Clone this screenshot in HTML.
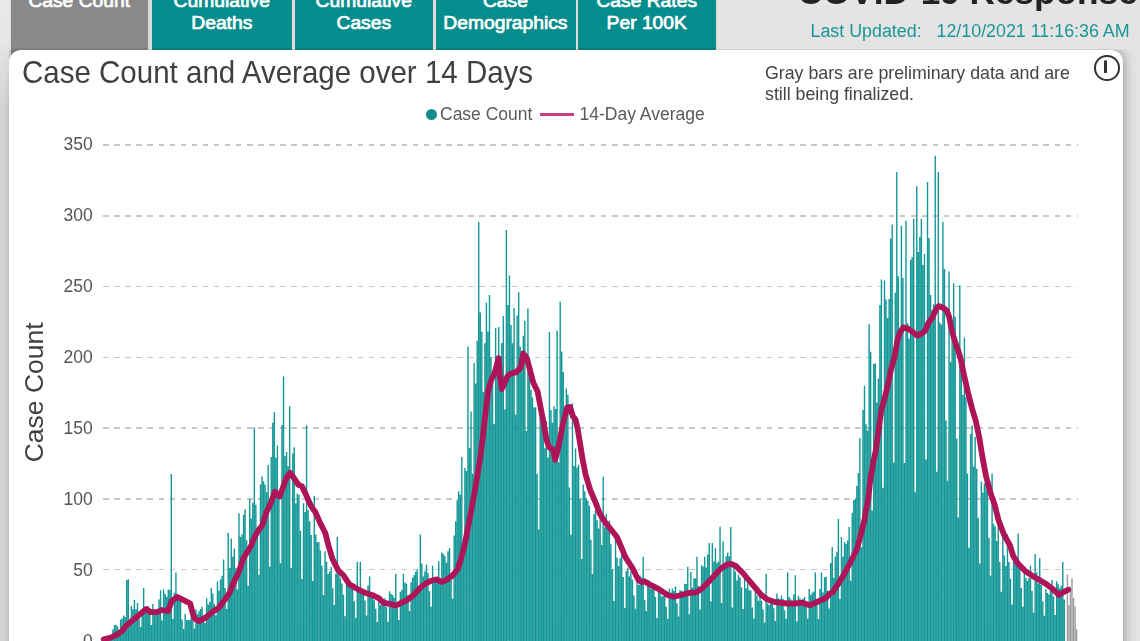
<!DOCTYPE html>
<html><head><meta charset="utf-8">
<style>
*{box-sizing:border-box;margin:0;padding:0}
html,body{width:1140px;height:641px;overflow:hidden;background:#e4e4e4;font-family:"Liberation Sans",sans-serif;position:relative}
.strip{position:absolute;left:0;top:0;width:9.2px;height:641px;z-index:2;background:linear-gradient(to bottom,#e8e8e8 0,#e7e7e7 40px,rgba(231,231,231,0.5) 70px,rgba(231,231,231,0) 110px),linear-gradient(to right,#d4d4d4 0,#d0d0d0 5px,#c6c6c6 7.5px,#bcbcbc 9.2px)}
.tabbg{position:absolute;left:10px;top:0;width:708px;height:49.3px;background:#dedada}
.tab{position:absolute;top:-20px;height:82px;background:#058c8c;color:#fff;font-weight:400;font-size:17.5px;-webkit-text-stroke:0.7px #fff;text-align:center;line-height:21.8px;padding-top:11.1px}
.tab span{display:inline-block;transform:scaleX(1.1)}
.tab.active{background:#898989}
.tab:after{content:"";position:absolute;left:0;right:0;top:68px;height:1.4px;background:#067b7b}
.tab.active:after{background:#7e7e7e}
.hdr{position:absolute;left:797.5px;top:-27.8px;font-size:35.2px;font-weight:700;color:#222;white-space:nowrap}
.upd{position:absolute;left:810.5px;top:20.6px;font-size:17.85px;color:#1a9696;white-space:nowrap}
.card{position:absolute;left:9.2px;top:49.5px;width:1113.9px;height:620px;background:#fff;border-radius:12px;box-shadow:0 0 13px rgba(0,0,0,.42);clip-path:inset(0 -30px -30px -30px)}
.title{position:absolute;left:22px;top:56px;font-size:29.5px;color:#404040;white-space:nowrap;transform:scaleY(1.085);transform-origin:0 26.7px}
.note{position:absolute;left:765px;top:63px;font-size:17.75px;line-height:21px;color:#444;white-space:nowrap}
.legend{position:absolute;top:104px;font-size:17.5px;color:#5a5a5a;white-space:nowrap}
.dot{position:absolute;left:426px;top:109px;width:11px;height:11px;border-radius:50%;background:#108e8e}
.lline{position:absolute;left:540px;top:113px;width:34px;height:3px;background:#c4407e}
.info{position:absolute;left:1094.3px;top:55.3px;width:25.5px;height:25.3px;border:2.8px solid #333;border-radius:50%}
.info:after{content:"";position:absolute;left:7.9px;top:3.2px;width:3.2px;height:12.3px;background:#333;border-radius:1.6px 1.6px 0.5px 0.5px}
.chart{position:absolute;left:0;top:0}
.wrap{position:absolute;left:0;top:0;width:1140px;height:641px;overflow:hidden;filter:blur(0.4px)}
</style></head><body><div class="wrap">
<div class="strip"></div>
<div class="tabbg"></div>
<div class="tab active" style="left:10.5px;width:137px"><span>Case Count</span></div>
<div class="tab" style="left:151.5px;width:140px"><span>Cumulative<br>Deaths</span></div>
<div class="tab" style="left:294.5px;width:138px"><span>Cumulative<br>Cases</span></div>
<div class="tab" style="left:435.5px;width:140px"><span>Case<br>Demographics</span></div>
<div class="tab" style="left:578px;width:138px"><span>Case Rates<br>Per 100K</span></div>
<div class="hdr">COVID-19 Response</div>
<div class="upd">Last Updated:&nbsp;&nbsp; 12/10/2021 11:16:36 AM</div>
<div class="card"></div>
<div class="title">Case Count and Average over 14 Days</div>
<div class="note">Gray bars are preliminary data and are<br>still being finalized.</div>
<div class="dot"></div>
<div class="legend" style="left:440px">Case Count</div>
<div class="lline"></div>
<div class="legend" style="left:579.5px">14-Day Average</div>
<div class="info"></div>
<svg class="chart" width="1140" height="641" viewBox="0 0 1140 641">
<g stroke="#c8c8c8" stroke-width="1.5" stroke-dasharray="5.5 5.562" shape-rendering="crispEdges"><line x1="103.2" x2="1077.7" y1="569.6" y2="569.6"/><line x1="103.2" x2="1077.7" y1="498.8" y2="498.8"/><line x1="103.2" x2="1077.7" y1="428.1" y2="428.1"/><line x1="103.2" x2="1077.7" y1="357.4" y2="357.4"/><line x1="103.2" x2="1077.7" y1="286.6" y2="286.6"/><line x1="103.2" x2="1077.7" y1="215.9" y2="215.9"/><line x1="103.2" x2="1077.7" y1="145.2" y2="145.2"/></g>
<path fill="#139797" d="M103.00 637.5h1.4V642h-1.4zM104.54 637.5h1.4V642h-1.4zM106.07 637.5h1.4V642h-1.4zM107.61 637.5h1.4V642h-1.4zM109.15 637.5h1.4V642h-1.4zM110.69 637.5h1.4V642h-1.4zM112.22 629.5h1.4V642h-1.4zM113.76 625.3h1.4V642h-1.4zM115.30 624.8h1.4V642h-1.4zM116.83 626.6h1.4V642h-1.4zM118.37 632.0h1.4V642h-1.4zM119.91 619.7h1.4V642h-1.4zM121.44 618.4h1.4V642h-1.4zM122.98 615.6h1.4V642h-1.4zM124.52 617.0h1.4V642h-1.4zM126.05 580.0h1.4V642h-1.4zM127.59 579.2h1.4V642h-1.4zM129.13 624.9h1.4V642h-1.4zM130.67 606.1h1.4V642h-1.4zM132.20 608.9h1.4V642h-1.4zM133.74 600.0h1.4V642h-1.4zM135.28 609.3h1.4V642h-1.4zM136.81 603.0h1.4V642h-1.4zM138.35 617.1h1.4V642h-1.4zM139.89 626.9h1.4V642h-1.4zM141.43 609.6h1.4V642h-1.4zM142.96 588.0h1.4V642h-1.4zM144.50 608.2h1.4V642h-1.4zM146.04 611.0h1.4V642h-1.4zM147.57 606.3h1.4V642h-1.4zM149.11 614.1h1.4V642h-1.4zM150.65 625.1h1.4V642h-1.4zM152.18 604.0h1.4V642h-1.4zM153.72 611.1h1.4V642h-1.4zM155.26 612.4h1.4V642h-1.4zM156.80 609.8h1.4V642h-1.4zM158.33 599.6h1.4V642h-1.4zM159.87 590.2h1.4V642h-1.4zM161.41 620.4h1.4V642h-1.4zM162.94 589.6h1.4V642h-1.4zM164.48 594.0h1.4V642h-1.4zM166.02 596.7h1.4V642h-1.4zM167.55 589.4h1.4V642h-1.4zM169.09 590.1h1.4V642h-1.4zM170.63 473.9h1.4V642h-1.4zM172.17 619.0h1.4V642h-1.4zM173.70 592.8h1.4V642h-1.4zM175.24 572.5h1.4V642h-1.4zM176.78 598.0h1.4V642h-1.4zM178.31 601.0h1.4V642h-1.4zM179.85 598.7h1.4V642h-1.4zM181.39 619.6h1.4V642h-1.4zM182.92 629.0h1.4V642h-1.4zM184.46 613.8h1.4V642h-1.4zM186.00 620.1h1.4V642h-1.4zM187.54 620.0h1.4V642h-1.4zM189.07 620.3h1.4V642h-1.4zM190.61 615.4h1.4V642h-1.4zM192.15 620.8h1.4V642h-1.4zM193.68 628.4h1.4V642h-1.4zM195.22 609.5h1.4V642h-1.4zM196.76 614.2h1.4V642h-1.4zM198.29 611.3h1.4V642h-1.4zM199.83 608.9h1.4V642h-1.4zM201.37 606.8h1.4V642h-1.4zM202.91 615.4h1.4V642h-1.4zM204.44 623.1h1.4V642h-1.4zM205.98 598.3h1.4V642h-1.4zM207.52 604.5h1.4V642h-1.4zM209.05 601.9h1.4V642h-1.4zM210.59 588.0h1.4V642h-1.4zM212.13 593.4h1.4V642h-1.4zM213.66 604.3h1.4V642h-1.4zM215.20 615.2h1.4V642h-1.4zM216.74 581.4h1.4V642h-1.4zM218.28 590.4h1.4V642h-1.4zM219.81 579.5h1.4V642h-1.4zM221.35 575.7h1.4V642h-1.4zM222.89 559.4h1.4V642h-1.4zM224.42 587.9h1.4V642h-1.4zM225.96 609.0h1.4V642h-1.4zM227.50 533.1h1.4V642h-1.4zM229.03 568.1h1.4V642h-1.4zM230.57 538.4h1.4V642h-1.4zM232.11 556.7h1.4V642h-1.4zM233.64 548.6h1.4V642h-1.4zM235.18 568.1h1.4V642h-1.4zM236.72 589.6h1.4V642h-1.4zM238.26 513.3h1.4V642h-1.4zM239.79 537.0h1.4V642h-1.4zM241.33 534.4h1.4V642h-1.4zM242.87 514.7h1.4V642h-1.4zM244.40 509.6h1.4V642h-1.4zM245.94 540.2h1.4V642h-1.4zM247.48 585.7h1.4V642h-1.4zM249.01 498.8h1.4V642h-1.4zM250.55 518.4h1.4V642h-1.4zM252.09 502.7h1.4V642h-1.4zM253.63 427.4h1.4V642h-1.4zM255.16 504.8h1.4V642h-1.4zM256.70 537.1h1.4V642h-1.4zM258.24 574.7h1.4V642h-1.4zM259.77 484.6h1.4V642h-1.4zM261.31 476.5h1.4V642h-1.4zM262.85 481.2h1.4V642h-1.4zM264.38 484.4h1.4V642h-1.4zM265.92 492.3h1.4V642h-1.4zM267.46 464.9h1.4V642h-1.4zM269.00 566.7h1.4V642h-1.4zM270.53 457.0h1.4V642h-1.4zM272.07 422.7h1.4V642h-1.4zM273.61 412.1h1.4V642h-1.4zM275.14 457.4h1.4V642h-1.4zM276.68 445.5h1.4V642h-1.4zM278.22 492.5h1.4V642h-1.4zM279.75 563.3h1.4V642h-1.4zM281.29 424.9h1.4V642h-1.4zM282.83 376.5h1.4V642h-1.4zM284.37 456.2h1.4V642h-1.4zM285.90 451.9h1.4V642h-1.4zM287.44 466.2h1.4V642h-1.4zM288.98 406.3h1.4V642h-1.4zM290.51 567.9h1.4V642h-1.4zM292.05 453.6h1.4V642h-1.4zM293.59 447.2h1.4V642h-1.4zM295.12 503.3h1.4V642h-1.4zM296.66 493.6h1.4V642h-1.4zM298.20 495.1h1.4V642h-1.4zM299.74 530.8h1.4V642h-1.4zM301.27 579.1h1.4V642h-1.4zM302.81 503.3h1.4V642h-1.4zM304.35 512.0h1.4V642h-1.4zM305.88 425.3h1.4V642h-1.4zM307.42 510.0h1.4V642h-1.4zM308.96 521.2h1.4V642h-1.4zM310.50 534.9h1.4V642h-1.4zM312.03 581.1h1.4V642h-1.4zM313.57 496.0h1.4V642h-1.4zM315.11 534.5h1.4V642h-1.4zM316.64 542.2h1.4V642h-1.4zM318.18 541.9h1.4V642h-1.4zM319.72 550.6h1.4V642h-1.4zM321.25 565.8h1.4V642h-1.4zM322.79 595.0h1.4V642h-1.4zM324.33 551.3h1.4V642h-1.4zM325.87 561.7h1.4V642h-1.4zM327.40 574.0h1.4V642h-1.4zM328.94 571.5h1.4V642h-1.4zM330.48 566.9h1.4V642h-1.4zM332.01 588.3h1.4V642h-1.4zM333.55 605.1h1.4V642h-1.4zM335.09 573.8h1.4V642h-1.4zM336.62 537.0h1.4V642h-1.4zM338.16 574.6h1.4V642h-1.4zM339.70 578.3h1.4V642h-1.4zM341.24 583.4h1.4V642h-1.4zM342.77 594.7h1.4V642h-1.4zM344.31 616.2h1.4V642h-1.4zM345.85 578.2h1.4V642h-1.4zM347.38 578.2h1.4V642h-1.4zM348.92 582.9h1.4V642h-1.4zM350.46 582.7h1.4V642h-1.4zM351.99 587.9h1.4V642h-1.4zM353.53 601.2h1.4V642h-1.4zM355.07 617.8h1.4V642h-1.4zM356.61 561.8h1.4V642h-1.4zM358.14 589.3h1.4V642h-1.4zM359.68 561.8h1.4V642h-1.4zM361.22 592.0h1.4V642h-1.4zM362.75 592.7h1.4V642h-1.4zM364.29 600.5h1.4V642h-1.4zM365.83 615.5h1.4V642h-1.4zM367.36 585.6h1.4V642h-1.4zM368.90 576.6h1.4V642h-1.4zM370.44 595.7h1.4V642h-1.4zM371.97 595.8h1.4V642h-1.4zM373.51 600.2h1.4V642h-1.4zM375.05 608.7h1.4V642h-1.4zM376.59 621.9h1.4V642h-1.4zM378.12 601.6h1.4V642h-1.4zM379.66 605.2h1.4V642h-1.4zM381.20 604.5h1.4V642h-1.4zM382.73 603.1h1.4V642h-1.4zM384.27 598.3h1.4V642h-1.4zM385.81 606.9h1.4V642h-1.4zM387.34 621.7h1.4V642h-1.4zM388.88 591.3h1.4V642h-1.4zM390.42 593.9h1.4V642h-1.4zM391.96 595.0h1.4V642h-1.4zM393.49 597.7h1.4V642h-1.4zM395.03 573.8h1.4V642h-1.4zM396.57 607.7h1.4V642h-1.4zM398.10 620.0h1.4V642h-1.4zM399.64 592.0h1.4V642h-1.4zM401.18 590.0h1.4V642h-1.4zM402.71 573.8h1.4V642h-1.4zM404.25 582.6h1.4V642h-1.4zM405.79 583.8h1.4V642h-1.4zM407.33 595.3h1.4V642h-1.4zM408.86 611.0h1.4V642h-1.4zM410.40 582.2h1.4V642h-1.4zM411.94 577.5h1.4V642h-1.4zM413.47 574.9h1.4V642h-1.4zM415.01 571.8h1.4V642h-1.4zM416.55 569.6h1.4V642h-1.4zM418.08 590.7h1.4V642h-1.4zM419.62 534.5h1.4V642h-1.4zM421.16 563.4h1.4V642h-1.4zM422.70 576.6h1.4V642h-1.4zM424.23 571.3h1.4V642h-1.4zM425.77 564.6h1.4V642h-1.4zM427.31 573.1h1.4V642h-1.4zM428.84 591.2h1.4V642h-1.4zM430.38 606.7h1.4V642h-1.4zM431.92 565.7h1.4V642h-1.4zM433.45 579.8h1.4V642h-1.4zM434.99 581.9h1.4V642h-1.4zM436.53 577.2h1.4V642h-1.4zM438.07 561.3h1.4V642h-1.4zM439.60 582.1h1.4V642h-1.4zM441.14 552.6h1.4V642h-1.4zM442.68 553.9h1.4V642h-1.4zM444.21 556.1h1.4V642h-1.4zM445.75 562.6h1.4V642h-1.4zM447.29 551.2h1.4V642h-1.4zM448.82 548.1h1.4V642h-1.4zM450.36 574.9h1.4V642h-1.4zM451.90 598.8h1.4V642h-1.4zM453.44 535.6h1.4V642h-1.4zM454.97 521.2h1.4V642h-1.4zM456.51 500.2h1.4V642h-1.4zM458.05 491.3h1.4V642h-1.4zM459.58 494.7h1.4V642h-1.4zM461.12 457.0h1.4V642h-1.4zM462.66 558.7h1.4V642h-1.4zM464.19 467.9h1.4V642h-1.4zM465.73 471.0h1.4V642h-1.4zM467.27 346.5h1.4V642h-1.4zM468.81 447.9h1.4V642h-1.4zM470.34 411.6h1.4V642h-1.4zM471.88 473.7h1.4V642h-1.4zM473.42 363.0h1.4V642h-1.4zM474.95 383.6h1.4V642h-1.4zM476.49 340.8h1.4V642h-1.4zM478.03 222.0h1.4V642h-1.4zM479.56 312.5h1.4V642h-1.4zM481.10 331.8h1.4V642h-1.4zM482.64 392.1h1.4V642h-1.4zM484.18 343.2h1.4V642h-1.4zM485.71 302.8h1.4V642h-1.4zM487.25 331.4h1.4V642h-1.4zM488.79 295.1h1.4V642h-1.4zM490.32 357.3h1.4V642h-1.4zM491.86 381.4h1.4V642h-1.4zM493.40 424.1h1.4V642h-1.4zM494.94 327.9h1.4V642h-1.4zM496.47 360.7h1.4V642h-1.4zM498.01 327.0h1.4V642h-1.4zM499.55 379.8h1.4V642h-1.4zM501.08 343.0h1.4V642h-1.4zM502.62 315.9h1.4V642h-1.4zM504.16 409.4h1.4V642h-1.4zM505.69 230.0h1.4V642h-1.4zM507.23 305.0h1.4V642h-1.4zM508.77 275.4h1.4V642h-1.4zM510.31 324.9h1.4V642h-1.4zM511.84 343.2h1.4V642h-1.4zM513.38 308.1h1.4V642h-1.4zM514.92 414.5h1.4V642h-1.4zM516.45 315.6h1.4V642h-1.4zM517.99 292.3h1.4V642h-1.4zM519.53 346.7h1.4V642h-1.4zM521.06 360.1h1.4V642h-1.4zM522.60 335.8h1.4V642h-1.4zM524.14 320.8h1.4V642h-1.4zM525.67 430.9h1.4V642h-1.4zM527.21 308.6h1.4V642h-1.4zM528.75 358.0h1.4V642h-1.4zM530.29 389.8h1.4V642h-1.4zM531.82 397.3h1.4V642h-1.4zM533.36 407.4h1.4V642h-1.4zM534.90 407.2h1.4V642h-1.4zM536.43 474.1h1.4V642h-1.4zM537.97 529.4h1.4V642h-1.4zM539.51 398.9h1.4V642h-1.4zM541.04 410.9h1.4V642h-1.4zM542.58 422.3h1.4V642h-1.4zM544.12 448.3h1.4V642h-1.4zM545.66 421.0h1.4V642h-1.4zM547.19 457.5h1.4V642h-1.4zM548.73 331.9h1.4V642h-1.4zM550.27 410.0h1.4V642h-1.4zM551.80 422.7h1.4V642h-1.4zM553.34 406.3h1.4V642h-1.4zM554.88 409.1h1.4V642h-1.4zM556.41 330.5h1.4V642h-1.4zM557.95 462.3h1.4V642h-1.4zM559.49 301.6h1.4V642h-1.4zM561.03 351.6h1.4V642h-1.4zM562.56 372.1h1.4V642h-1.4zM564.10 426.0h1.4V642h-1.4zM565.64 388.3h1.4V642h-1.4zM567.17 394.8h1.4V642h-1.4zM568.71 487.6h1.4V642h-1.4zM570.25 534.4h1.4V642h-1.4zM571.78 403.3h1.4V642h-1.4zM573.32 466.1h1.4V642h-1.4zM574.86 448.4h1.4V642h-1.4zM576.40 467.4h1.4V642h-1.4zM577.93 464.8h1.4V642h-1.4zM579.47 499.1h1.4V642h-1.4zM581.01 558.9h1.4V642h-1.4zM582.54 484.4h1.4V642h-1.4zM584.08 491.2h1.4V642h-1.4zM585.62 498.0h1.4V642h-1.4zM587.15 500.6h1.4V642h-1.4zM588.69 505.8h1.4V642h-1.4zM590.23 539.8h1.4V642h-1.4zM591.77 574.0h1.4V642h-1.4zM593.30 514.3h1.4V642h-1.4zM594.84 510.2h1.4V642h-1.4zM596.38 520.3h1.4V642h-1.4zM597.91 528.5h1.4V642h-1.4zM599.45 517.9h1.4V642h-1.4zM600.99 544.9h1.4V642h-1.4zM602.52 476.8h1.4V642h-1.4zM604.06 527.3h1.4V642h-1.4zM605.60 513.9h1.4V642h-1.4zM607.14 527.6h1.4V642h-1.4zM608.67 520.8h1.4V642h-1.4zM610.21 544.3h1.4V642h-1.4zM611.75 569.3h1.4V642h-1.4zM613.28 601.1h1.4V642h-1.4zM614.82 535.5h1.4V642h-1.4zM616.36 557.7h1.4V642h-1.4zM617.89 565.9h1.4V642h-1.4zM619.43 558.3h1.4V642h-1.4zM620.97 549.0h1.4V642h-1.4zM622.51 577.0h1.4V642h-1.4zM624.04 607.9h1.4V642h-1.4zM625.58 570.9h1.4V642h-1.4zM627.12 567.6h1.4V642h-1.4zM628.65 576.6h1.4V642h-1.4zM630.19 571.8h1.4V642h-1.4zM631.73 579.4h1.4V642h-1.4zM633.26 595.6h1.4V642h-1.4zM634.80 608.8h1.4V642h-1.4zM636.34 573.2h1.4V642h-1.4zM637.88 585.0h1.4V642h-1.4zM639.41 575.6h1.4V642h-1.4zM640.95 577.4h1.4V642h-1.4zM642.49 556.8h1.4V642h-1.4zM644.02 599.9h1.4V642h-1.4zM645.56 610.9h1.4V642h-1.4zM647.10 585.2h1.4V642h-1.4zM648.63 580.2h1.4V642h-1.4zM650.17 588.7h1.4V642h-1.4zM651.71 588.4h1.4V642h-1.4zM653.25 585.4h1.4V642h-1.4zM654.78 597.0h1.4V642h-1.4zM656.32 618.1h1.4V642h-1.4zM657.86 591.4h1.4V642h-1.4zM659.39 591.2h1.4V642h-1.4zM660.93 596.6h1.4V642h-1.4zM662.47 596.1h1.4V642h-1.4zM664.00 593.9h1.4V642h-1.4zM665.54 606.7h1.4V642h-1.4zM667.08 618.7h1.4V642h-1.4zM668.62 588.7h1.4V642h-1.4zM670.15 592.6h1.4V642h-1.4zM671.69 588.6h1.4V642h-1.4zM673.23 591.1h1.4V642h-1.4zM674.76 586.6h1.4V642h-1.4zM676.30 603.3h1.4V642h-1.4zM677.84 616.6h1.4V642h-1.4zM679.38 589.9h1.4V642h-1.4zM680.91 591.1h1.4V642h-1.4zM682.45 595.6h1.4V642h-1.4zM683.99 583.7h1.4V642h-1.4zM685.52 583.9h1.4V642h-1.4zM687.06 566.7h1.4V642h-1.4zM688.60 614.2h1.4V642h-1.4zM690.13 571.9h1.4V642h-1.4zM691.67 587.7h1.4V642h-1.4zM693.21 578.2h1.4V642h-1.4zM694.75 578.6h1.4V642h-1.4zM696.28 556.8h1.4V642h-1.4zM697.82 585.9h1.4V642h-1.4zM699.36 609.5h1.4V642h-1.4zM700.89 565.2h1.4V642h-1.4zM702.43 566.5h1.4V642h-1.4zM703.97 556.8h1.4V642h-1.4zM705.50 567.5h1.4V642h-1.4zM707.04 554.4h1.4V642h-1.4zM708.58 543.1h1.4V642h-1.4zM710.12 601.4h1.4V642h-1.4zM711.65 543.1h1.4V642h-1.4zM713.19 561.6h1.4V642h-1.4zM714.73 548.3h1.4V642h-1.4zM716.26 562.7h1.4V642h-1.4zM717.80 561.7h1.4V642h-1.4zM719.34 526.7h1.4V642h-1.4zM720.87 603.1h1.4V642h-1.4zM722.41 541.3h1.4V642h-1.4zM723.95 566.5h1.4V642h-1.4zM725.49 556.2h1.4V642h-1.4zM727.02 552.7h1.4V642h-1.4zM728.56 556.3h1.4V642h-1.4zM730.10 527.1h1.4V642h-1.4zM731.63 607.6h1.4V642h-1.4zM733.17 566.0h1.4V642h-1.4zM734.71 571.4h1.4V642h-1.4zM736.24 580.5h1.4V642h-1.4zM737.78 574.4h1.4V642h-1.4zM739.32 577.6h1.4V642h-1.4zM740.86 587.4h1.4V642h-1.4zM742.39 608.9h1.4V642h-1.4zM743.93 576.8h1.4V642h-1.4zM745.47 588.2h1.4V642h-1.4zM747.00 582.9h1.4V642h-1.4zM748.54 590.2h1.4V642h-1.4zM750.08 590.2h1.4V642h-1.4zM751.61 607.4h1.4V642h-1.4zM753.15 618.6h1.4V642h-1.4zM754.69 590.5h1.4V642h-1.4zM756.23 595.5h1.4V642h-1.4zM757.76 600.8h1.4V642h-1.4zM759.30 595.9h1.4V642h-1.4zM760.84 600.7h1.4V642h-1.4zM762.37 609.4h1.4V642h-1.4zM763.91 622.5h1.4V642h-1.4zM765.45 573.8h1.4V642h-1.4zM766.98 603.4h1.4V642h-1.4zM768.52 605.1h1.4V642h-1.4zM770.06 600.4h1.4V642h-1.4zM771.59 600.3h1.4V642h-1.4zM773.13 608.2h1.4V642h-1.4zM774.67 621.0h1.4V642h-1.4zM776.21 593.5h1.4V642h-1.4zM777.74 598.3h1.4V642h-1.4zM779.28 599.3h1.4V642h-1.4zM780.82 595.4h1.4V642h-1.4zM782.35 599.1h1.4V642h-1.4zM783.89 610.3h1.4V642h-1.4zM785.43 618.8h1.4V642h-1.4zM786.96 572.4h1.4V642h-1.4zM788.50 597.0h1.4V642h-1.4zM790.04 599.2h1.4V642h-1.4zM791.58 602.9h1.4V642h-1.4zM793.11 594.5h1.4V642h-1.4zM794.65 575.2h1.4V642h-1.4zM796.19 621.2h1.4V642h-1.4zM797.72 595.8h1.4V642h-1.4zM799.26 598.4h1.4V642h-1.4zM800.80 605.3h1.4V642h-1.4zM802.33 598.8h1.4V642h-1.4zM803.87 597.1h1.4V642h-1.4zM805.41 605.2h1.4V642h-1.4zM806.95 618.6h1.4V642h-1.4zM808.48 589.0h1.4V642h-1.4zM810.02 595.0h1.4V642h-1.4zM811.56 592.7h1.4V642h-1.4zM813.09 591.5h1.4V642h-1.4zM814.63 572.4h1.4V642h-1.4zM816.17 605.0h1.4V642h-1.4zM817.70 619.0h1.4V642h-1.4zM819.24 588.9h1.4V642h-1.4zM820.78 572.4h1.4V642h-1.4zM822.32 592.6h1.4V642h-1.4zM823.85 577.3h1.4V642h-1.4zM825.39 576.8h1.4V642h-1.4zM826.93 590.5h1.4V642h-1.4zM828.46 608.5h1.4V642h-1.4zM830.00 562.9h1.4V642h-1.4zM831.54 546.9h1.4V642h-1.4zM833.07 577.8h1.4V642h-1.4zM834.61 556.5h1.4V642h-1.4zM836.15 551.7h1.4V642h-1.4zM837.69 518.9h1.4V642h-1.4zM839.22 599.1h1.4V642h-1.4zM840.76 537.0h1.4V642h-1.4zM842.30 556.8h1.4V642h-1.4zM843.83 541.9h1.4V642h-1.4zM845.37 544.0h1.4V642h-1.4zM846.91 540.4h1.4V642h-1.4zM848.44 527.1h1.4V642h-1.4zM849.98 580.8h1.4V642h-1.4zM851.52 512.7h1.4V642h-1.4zM853.06 500.3h1.4V642h-1.4zM854.59 498.8h1.4V642h-1.4zM856.13 486.1h1.4V642h-1.4zM857.67 473.1h1.4V642h-1.4zM859.20 438.0h1.4V642h-1.4zM860.74 547.2h1.4V642h-1.4zM862.28 409.9h1.4V642h-1.4zM863.81 385.7h1.4V642h-1.4zM865.35 424.2h1.4V642h-1.4zM866.89 430.5h1.4V642h-1.4zM868.43 324.3h1.4V642h-1.4zM869.96 351.7h1.4V642h-1.4zM871.50 510.4h1.4V642h-1.4zM873.04 364.0h1.4V642h-1.4zM874.57 363.3h1.4V642h-1.4zM876.11 402.5h1.4V642h-1.4zM877.65 378.4h1.4V642h-1.4zM879.18 305.0h1.4V642h-1.4zM880.72 279.6h1.4V642h-1.4zM882.26 487.7h1.4V642h-1.4zM883.80 280.6h1.4V642h-1.4zM885.33 299.4h1.4V642h-1.4zM886.87 318.1h1.4V642h-1.4zM888.41 299.0h1.4V642h-1.4zM889.94 238.5h1.4V642h-1.4zM891.48 224.4h1.4V642h-1.4zM893.02 462.4h1.4V642h-1.4zM894.55 292.7h1.4V642h-1.4zM896.09 172.0h1.4V642h-1.4zM897.63 276.3h1.4V642h-1.4zM899.17 333.5h1.4V642h-1.4zM900.70 225.8h1.4V642h-1.4zM902.24 278.1h1.4V642h-1.4zM903.78 463.1h1.4V642h-1.4zM905.31 220.8h1.4V642h-1.4zM906.85 323.2h1.4V642h-1.4zM908.39 338.6h1.4V642h-1.4zM909.92 260.1h1.4V642h-1.4zM911.46 256.9h1.4V642h-1.4zM913.00 218.7h1.4V642h-1.4zM914.54 492.2h1.4V642h-1.4zM916.07 186.2h1.4V642h-1.4zM917.61 252.0h1.4V642h-1.4zM919.15 237.1h1.4V642h-1.4zM920.68 219.0h1.4V642h-1.4zM922.22 264.9h1.4V642h-1.4zM923.76 254.1h1.4V642h-1.4zM925.29 459.4h1.4V642h-1.4zM926.83 181.9h1.4V642h-1.4zM928.37 238.1h1.4V642h-1.4zM929.91 295.1h1.4V642h-1.4zM931.44 310.3h1.4V642h-1.4zM932.98 304.5h1.4V642h-1.4zM934.52 155.8h1.4V642h-1.4zM936.05 471.8h1.4V642h-1.4zM937.59 172.0h1.4V642h-1.4zM939.13 322.5h1.4V642h-1.4zM940.66 324.8h1.4V642h-1.4zM942.20 222.0h1.4V642h-1.4zM943.74 269.1h1.4V642h-1.4zM945.28 420.4h1.4V642h-1.4zM946.81 480.8h1.4V642h-1.4zM948.35 271.5h1.4V642h-1.4zM949.89 362.0h1.4V642h-1.4zM951.42 324.2h1.4V642h-1.4zM952.96 283.2h1.4V642h-1.4zM954.50 316.8h1.4V642h-1.4zM956.03 438.7h1.4V642h-1.4zM957.57 517.5h1.4V642h-1.4zM959.11 285.2h1.4V642h-1.4zM960.65 355.0h1.4V642h-1.4zM962.18 395.1h1.4V642h-1.4zM963.72 337.8h1.4V642h-1.4zM965.26 397.4h1.4V642h-1.4zM966.79 473.4h1.4V642h-1.4zM968.33 547.7h1.4V642h-1.4zM969.87 433.9h1.4V642h-1.4zM971.40 425.2h1.4V642h-1.4zM972.94 466.6h1.4V642h-1.4zM974.48 436.7h1.4V642h-1.4zM976.02 468.8h1.4V642h-1.4zM977.55 517.7h1.4V642h-1.4zM979.09 563.5h1.4V642h-1.4zM980.63 481.5h1.4V642h-1.4zM982.16 492.4h1.4V642h-1.4zM983.70 483.2h1.4V642h-1.4zM985.24 484.5h1.4V642h-1.4zM986.77 490.5h1.4V642h-1.4zM988.31 537.8h1.4V642h-1.4zM989.85 575.8h1.4V642h-1.4zM991.39 473.4h1.4V642h-1.4zM992.92 523.7h1.4V642h-1.4zM994.46 526.4h1.4V642h-1.4zM996.00 541.1h1.4V642h-1.4zM997.53 523.0h1.4V642h-1.4zM999.07 562.1h1.4V642h-1.4zM1000.61 591.8h1.4V642h-1.4zM1002.14 536.3h1.4V642h-1.4zM1003.68 555.5h1.4V642h-1.4zM1005.22 565.9h1.4V642h-1.4zM1006.76 534.2h1.4V642h-1.4zM1008.29 562.0h1.4V642h-1.4zM1009.83 578.5h1.4V642h-1.4zM1011.37 604.4h1.4V642h-1.4zM1012.90 560.2h1.4V642h-1.4zM1014.44 560.5h1.4V642h-1.4zM1015.98 560.4h1.4V642h-1.4zM1017.51 533.6h1.4V642h-1.4zM1019.05 561.9h1.4V642h-1.4zM1020.59 587.9h1.4V642h-1.4zM1022.13 606.7h1.4V642h-1.4zM1023.66 566.9h1.4V642h-1.4zM1025.20 577.8h1.4V642h-1.4zM1026.74 581.0h1.4V642h-1.4zM1028.27 577.9h1.4V642h-1.4zM1029.81 565.8h1.4V642h-1.4zM1031.35 590.9h1.4V642h-1.4zM1032.88 612.5h1.4V642h-1.4zM1034.42 554.0h1.4V642h-1.4zM1035.96 572.3h1.4V642h-1.4zM1037.50 583.6h1.4V642h-1.4zM1039.03 558.2h1.4V642h-1.4zM1040.57 585.1h1.4V642h-1.4zM1042.11 601.6h1.4V642h-1.4zM1043.64 615.8h1.4V642h-1.4zM1045.18 589.0h1.4V642h-1.4zM1046.72 593.0h1.4V642h-1.4zM1048.25 594.5h1.4V642h-1.4zM1049.79 587.0h1.4V642h-1.4zM1051.33 580.2h1.4V642h-1.4zM1052.87 596.5h1.4V642h-1.4zM1054.40 615.1h1.4V642h-1.4zM1055.94 581.3h1.4V642h-1.4zM1057.48 584.3h1.4V642h-1.4zM1059.01 588.2h1.4V642h-1.4zM1060.55 585.8h1.4V642h-1.4zM1062.09 562.1h1.4V642h-1.4zM1063.62 599.5h1.4V642h-1.4z"/>
<g fill="#9c9c9c"><rect x="1066.70" y="574.5" width="1.4" height="67.8"/><rect x="1068.24" y="604.9" width="1.4" height="37.4"/><rect x="1069.77" y="586.5" width="1.4" height="55.8"/><rect x="1071.31" y="578.1" width="1.4" height="64.2"/><rect x="1072.85" y="597.9" width="1.4" height="44.4"/><rect x="1074.38" y="606.3" width="1.4" height="36.0"/><rect x="1075.92" y="629.0" width="1.4" height="13.3"/></g>
<path d="M103.7,639.2 L111.0,637.5 L117.6,634.2 L122.0,631.0 L126.4,625.4 L133.0,619.9 L139.6,614.4 L146.2,608.9 L150.6,612.1 L157.2,612.1 L161.6,610.0 L168.2,611.2 L171.5,601.3 L177.0,596.9 L183.6,600.1 L190.2,603.5 L192.4,612.1 L194.6,618.8 L199.0,621.1 L205.6,617.7 L212.2,612.1 L218.8,607.8 L225.4,599.0 L229.8,592.3 L234.2,581.4 L238.6,572.5 L243.0,559.4 L245.5,554.7 L248.7,550.0 L251.5,544.8 L254.4,537.5 L258.5,530.0 L262.5,525.0 L266.2,512.6 L270.2,504.5 L274.9,491.8 L279.6,496.4 L283.1,486.9 L286.6,477.6 L290.1,472.9 L293.6,477.6 L298.3,484.7 L301.8,486.1 L305.6,493.9 L311.3,506.6 L315.5,512.3 L319.8,522.2 L325.4,533.3 L328.2,544.7 L332.5,559.0 L338.1,570.1 L343.8,575.8 L349.4,584.3 L356.5,588.5 L365.0,592.8 L373.4,595.6 L379.1,598.4 L383.3,602.7 L390.4,604.1 L396.0,605.5 L401.7,602.7 L407.3,599.8 L413.0,595.6 L420.0,588.0 L426.0,583.3 L431.3,580.7 L436.7,579.3 L442.0,582.0 L447.3,579.3 L452.7,575.4 L458.0,568.7 L462.0,555.3 L464.7,544.7 L467.3,531.4 L471.2,510.9 L475.0,489.9 L478.1,471.1 L480.6,455.0 L482.5,440.0 L484.4,422.4 L486.2,407.4 L488.1,391.2 L491.2,380.0 L494.3,373.8 L496.8,365.0 L498.6,358.1 L500.0,377.2 L501.8,389.2 L503.7,384.9 L507.5,376.2 L510.5,373.8 L516.2,372.1 L520.8,367.4 L523.2,353.4 L526.7,358.1 L530.0,370.1 L533.3,382.8 L537.5,391.3 L540.5,406.9 L543.8,423.9 L546.5,440.1 L549.3,447.5 L553.0,449.3 L555.2,459.9 L558.4,447.2 L562.8,424.6 L567.0,407.6 L570.0,406.9 L572.8,416.1 L575.5,419.6 L577.5,428.1 L580.1,443.4 L582.5,458.9 L585.6,474.6 L590.3,490.2 L595.5,502.4 L599.7,513.4 L604.4,521.2 L610.6,529.0 L616.8,536.7 L621.5,547.6 L625.4,557.1 L632.4,568.0 L638.7,580.5 L641.8,582.0 L644.3,581.2 L649.0,584.1 L658.4,588.9 L667.8,595.2 L674.0,596.7 L680.3,595.2 L688.2,593.0 L696.2,592.3 L702.5,588.1 L708.7,581.7 L715.0,574.9 L721.2,568.2 L727.5,564.3 L731.2,563.8 L736.2,566.2 L742.4,572.5 L748.7,580.0 L754.9,587.4 L761.2,594.9 L767.5,599.6 L775.3,602.2 L787.0,603.5 L794.8,603.5 L802.6,602.7 L809.6,605.4 L818.1,601.5 L826.0,597.9 L829.0,594.3 L832.7,592.2 L835.9,587.4 L839.8,581.2 L843.7,574.9 L850.3,562.5 L856.5,550.0 L859.4,540.0 L861.9,530.0 L864.5,520.1 L866.0,510.0 L868.1,500.0 L870.3,480.0 L873.7,460.1 L875.9,449.9 L878.6,429.9 L881.3,410.0 L884.2,399.9 L887.9,384.9 L890.9,370.0 L894.5,356.9 L897.5,340.0 L900.0,332.6 L903.3,327.4 L908.0,328.6 L912.7,332.0 L917.3,335.6 L922.0,333.3 L925.0,331.0 L928.7,322.4 L932.5,317.3 L935.6,310.0 L938.7,306.1 L942.5,307.4 L946.8,310.5 L949.3,317.3 L951.2,327.4 L953.7,337.4 L956.2,344.9 L958.7,352.3 L961.0,360.2 L963.5,372.9 L968.0,392.7 L972.0,408.3 L975.8,421.0 L979.5,438.7 L982.5,457.4 L986.0,476.1 L990.3,492.3 L994.5,504.1 L998.4,519.8 L1004.2,535.2 L1010.0,545.5 L1013.1,555.7 L1017.9,563.6 L1025.7,571.5 L1036.8,578.6 L1046.2,584.1 L1052.5,588.8 L1058.8,595.0 L1063.5,592.1 L1068.3,589.7" fill="none" stroke="#ae1559" stroke-width="5.8" stroke-linejoin="round" stroke-linecap="round"/>
<g font-family="Liberation Sans, sans-serif" font-size="17.5" fill="#555" text-anchor="end"><text x="92.8" y="646.5">0</text><text x="92.8" y="575.5">50</text><text x="92.8" y="504.5">100</text><text x="92.8" y="433.6">150</text><text x="92.8" y="362.6">200</text><text x="92.8" y="291.6">250</text><text x="92.8" y="220.6">300</text><text x="92.8" y="149.6">350</text></g>
<text transform="translate(43.3,392.3) rotate(-90)" text-anchor="middle" font-family="Liberation Sans, sans-serif" font-size="26.5" fill="#404040">Case Count</text>
</svg>
</div></body></html>
